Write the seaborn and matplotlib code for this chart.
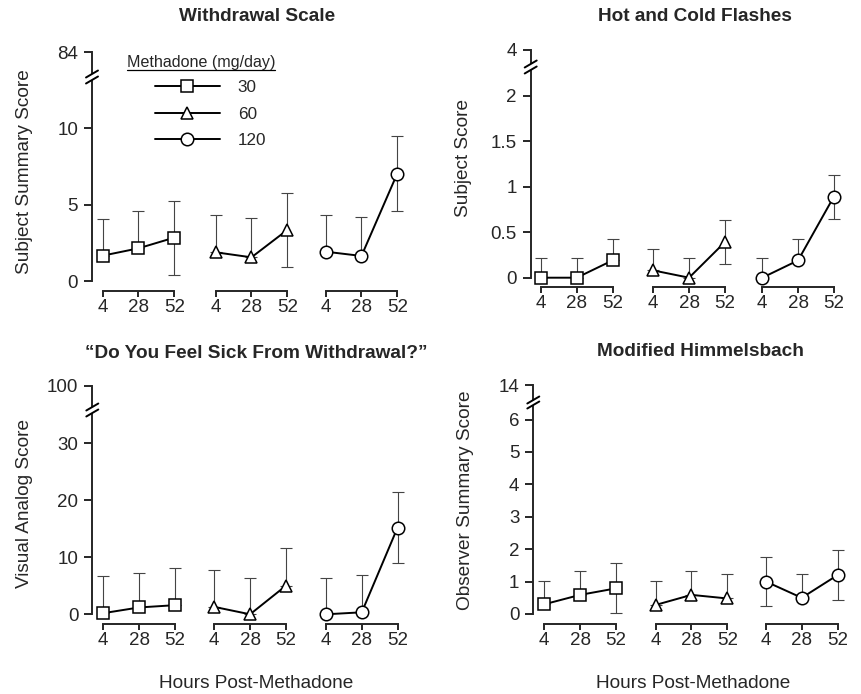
import numpy as np
import pandas as pd
import matplotlib
matplotlib.use('Agg')
import matplotlib.pyplot as plt
from matplotlib.lines import Line2D
from matplotlib.ticker import FuncFormatter
import seaborn as sns

# hours after the methadone dose, one group per daily dose
hours = [4, 28, 52]
doses = [30, 60, 120]
dose_markers = ['s', '^', 'o']

# group means and error bars (rows = 30, 60, 120 mg/day)
withdrawal_mean = [[1.66, 2.14, 2.84], [1.88, 1.55, 3.34], [1.92, 1.64, 7.03]]
withdrawal_err = [[2.40, 2.46, 2.42], [2.44, 2.55, 2.42], [2.40, 2.53, 2.45]]

flashes_mean = [[0.0, 0.0, 0.19], [0.08, 0.0, 0.39], [0.0, 0.19, 0.89]]
flashes_err = [[0.22, 0.22, 0.24], [0.24, 0.22, 0.24], [0.22, 0.24, 0.24]]

sick_mean = [[0.2, 1.2, 1.6], [1.3, 0.0, 5.0], [0.0, 0.35, 15.2]]
sick_err = [[6.5, 6.1, 6.6], [6.4, 6.3, 6.6], [6.3, 6.55, 6.2]]

himmel_mean = [[0.30, 0.59, 0.79], [0.28, 0.59, 0.48], [1.0, 0.5, 1.2]]
himmel_err = [[0.73, 0.75, 0.77], [0.75, 0.75, 0.76], [0.75, 0.74, 0.77]]

W, H = 861, 694
sns.set_style('ticks')
plt.rcParams['font.family'] = ['Liberation Sans', 'DejaVu Sans']
plt.rcParams['font.size'] = 13.5

TICK_FS = 13.5
LABEL_FS = 13.7

fig = plt.figure(figsize=(W / 100, H / 100), dpi=100)


def rect(left, top, width, height):
    # pixel box (origin top-left) -> figure fraction
    return [left / W, 1 - (top + height) / H, width / W, height / H]


def fx(x):
    return x / W


def fy(y):
    return 1 - y / H


def fmt(v, pos):
    return '%g' % v


def draw_panel(means, errs, title, ylabel, yticks, top_value, lay, xlabel=None):
    pph, ppu = lay['pph'], lay['ppu']
    xmin = 4 - (lay['g4'][0] - lay['axis_x']) / pph
    xmax = 57
    main_top, zero = lay['main_top'], lay['zero']
    ymax = (zero - main_top) / ppu
    first_ax = None
    for i, dose in enumerate(doses):
        left = lay['g4'][i] - (4 - xmin) * pph
        ax = fig.add_axes(rect(left, main_top, (xmax - xmin) * pph, zero - main_top))
        ax.patch.set_visible(False)
        df = pd.DataFrame({'hour': hours, 'score': means[i], 'err': errs[i]})
        lower = np.where(df['score'] - df['err'] >= 0, df['err'], 0)
        ax.errorbar(df['hour'], df['score'], yerr=[lower, df['err']], fmt='none',
                    ecolor='#444444', elinewidth=0.8, capsize=4, capthick=0.8, zorder=2)
        sns.lineplot(data=df, x='hour', y='score', marker=dose_markers[i], color='black',
                     markersize=9, markerfacecolor='white', markeredgecolor='black',
                     markeredgewidth=1.1, linewidth=1.4, clip_on=False, zorder=3, ax=ax)
        ax.set_xlim(xmin, xmax)
        ax.set_ylim(0, ymax)
        ax.set_xlabel('')
        ax.set_ylabel('')
        ax.set_xticks(hours)
        ax.set_xticklabels([str(h) for h in hours])
        for s in ['top', 'right']:
            ax.spines[s].set_visible(False)
        ax.spines['bottom'].set_bounds(4, 52)
        ax.spines['bottom'].set_position(('outward', 7))
        ax.spines['bottom'].set_linewidth(1.4)
        ax.tick_params(axis='x', direction='out', length=4.3, width=1.4, pad=1.5, labelsize=TICK_FS)
        if i == 0:
            first_ax = ax
            ax.spines['left'].set_bounds(0, ymax)
            ax.spines['left'].set_linewidth(1.4)
            ax.set_yticks(yticks)
            ax.yaxis.set_major_formatter(FuncFormatter(fmt))
            ax.tick_params(axis='y', direction='out', length=6, width=1.4, pad=4, labelsize=TICK_FS)
        else:
            ax.spines['left'].set_visible(False)
            ax.set_yticks([])

    # short piece of axis above the break carrying the top value
    top_ax = fig.add_axes(rect(lay['axis_x'], lay['top_y'], 8, lay['break_top'] - lay['top_y']))
    top_ax.patch.set_visible(False)
    top_ax.set_ylim(top_value - 1, top_value)
    top_ax.set_yticks([top_value])
    top_ax.yaxis.set_major_formatter(FuncFormatter(fmt))
    top_ax.set_xticks([])
    for s in ['top', 'right', 'bottom']:
        top_ax.spines[s].set_visible(False)
    top_ax.spines['left'].set_linewidth(1.4)
    top_ax.tick_params(axis='y', direction='out', length=6, width=1.4, pad=4, labelsize=TICK_FS)

    # break marks
    ax_x = lay['axis_x']
    for yb in (lay['break_top'] + 1, lay['main_top'] - 1):
        fig.add_artist(Line2D([fx(ax_x - 6), fx(ax_x + 6)], [fy(yb + 3.5), fy(yb - 3.5)],
                              color='black', lw=1.4))

    fig.text(fx(lay['title'][0]), fy(lay['title'][1]), title, ha='center', va='center',
             fontweight='bold', fontsize=LABEL_FS)
    fig.text(fx(lay['ylabel'][0]), fy(lay['ylabel'][1]), ylabel, ha='center', va='center',
             rotation=90, fontsize=LABEL_FS)
    if xlabel:
        fig.text(fx(lay['xlabel'][0]), fy(lay['xlabel'][1]), xlabel, ha='center', va='center',
                 fontsize=LABEL_FS)
    return first_ax


lay1 = dict(axis_x=92, zero=281, ppu=15.27, g4=[102.7, 215.7, 325.7], pph=1.49,
            top_y=52.3, break_top=73, main_top=81, title=(256.7, 16.7), ylabel=(25, 171.7))
lay2 = dict(axis_x=530.7, zero=277.7, ppu=91.0, g4=[541, 653.3, 762.3], pph=1.49,
            top_y=50, break_top=63, main_top=71, title=(695, 16.7), ylabel=(463.3, 158))
lay3 = dict(axis_x=92.3, zero=614.3, ppu=5.7, g4=[103.3, 214.3, 326], pph=1.49,
            top_y=386, break_top=406, main_top=414, title=(256.7, 353.3), ylabel=(25, 503),
            xlabel=(256, 684))
lay4 = dict(axis_x=533.3, zero=614, ppu=32.4, g4=[544.3, 655.7, 766], pph=1.49,
            top_y=385, break_top=399, main_top=406, title=(700.7, 351.7), ylabel=(465, 500),
            xlabel=(693.3, 684))

ax1 = draw_panel(withdrawal_mean, withdrawal_err, 'Withdrawal Scale', 'Subject Summary Score',
                 [0, 5, 10], 84, lay1)
draw_panel(flashes_mean, flashes_err, 'Hot and Cold Flashes', 'Subject Score',
           [0, 0.5, 1, 1.5, 2], 4, lay2)
draw_panel(sick_mean, sick_err, '\u201cDo You Feel Sick From Withdrawal?\u201d', 'Visual Analog Score',
           [0, 10, 20, 30], 100, lay3, xlabel='Hours Post-Methadone')
draw_panel(himmel_mean, himmel_err, 'Modified Himmelsbach', 'Observer Summary Score',
           [0, 1, 2, 3, 4, 5, 6], 14, lay4, xlabel='Hours Post-Methadone')

# legend for the dose groups
handles = [Line2D([], [], color='black', marker=m, markersize=9, markerfacecolor='white',
                  markeredgecolor='black', markeredgewidth=1.1, lw=1.4) for m in dose_markers]
ax1.legend(handles, [str(d) for d in doses], loc='upper left',
           bbox_to_anchor=(fx(155), fy(80)), bbox_transform=fig.transFigure,
           frameon=False, handlelength=3.8, handletextpad=1.05, labelspacing=0.68,
           borderpad=0, borderaxespad=0, fontsize=12.3)
fig.text(fx(127), fy(67.5), 'Methadone (mg/day)', ha='left', va='baseline', fontsize=11.6)
fig.add_artist(Line2D([fx(127), fx(275)], [fy(70), fy(70)], color='black', lw=0.9))

fig.savefig('out.png', dpi=100)
